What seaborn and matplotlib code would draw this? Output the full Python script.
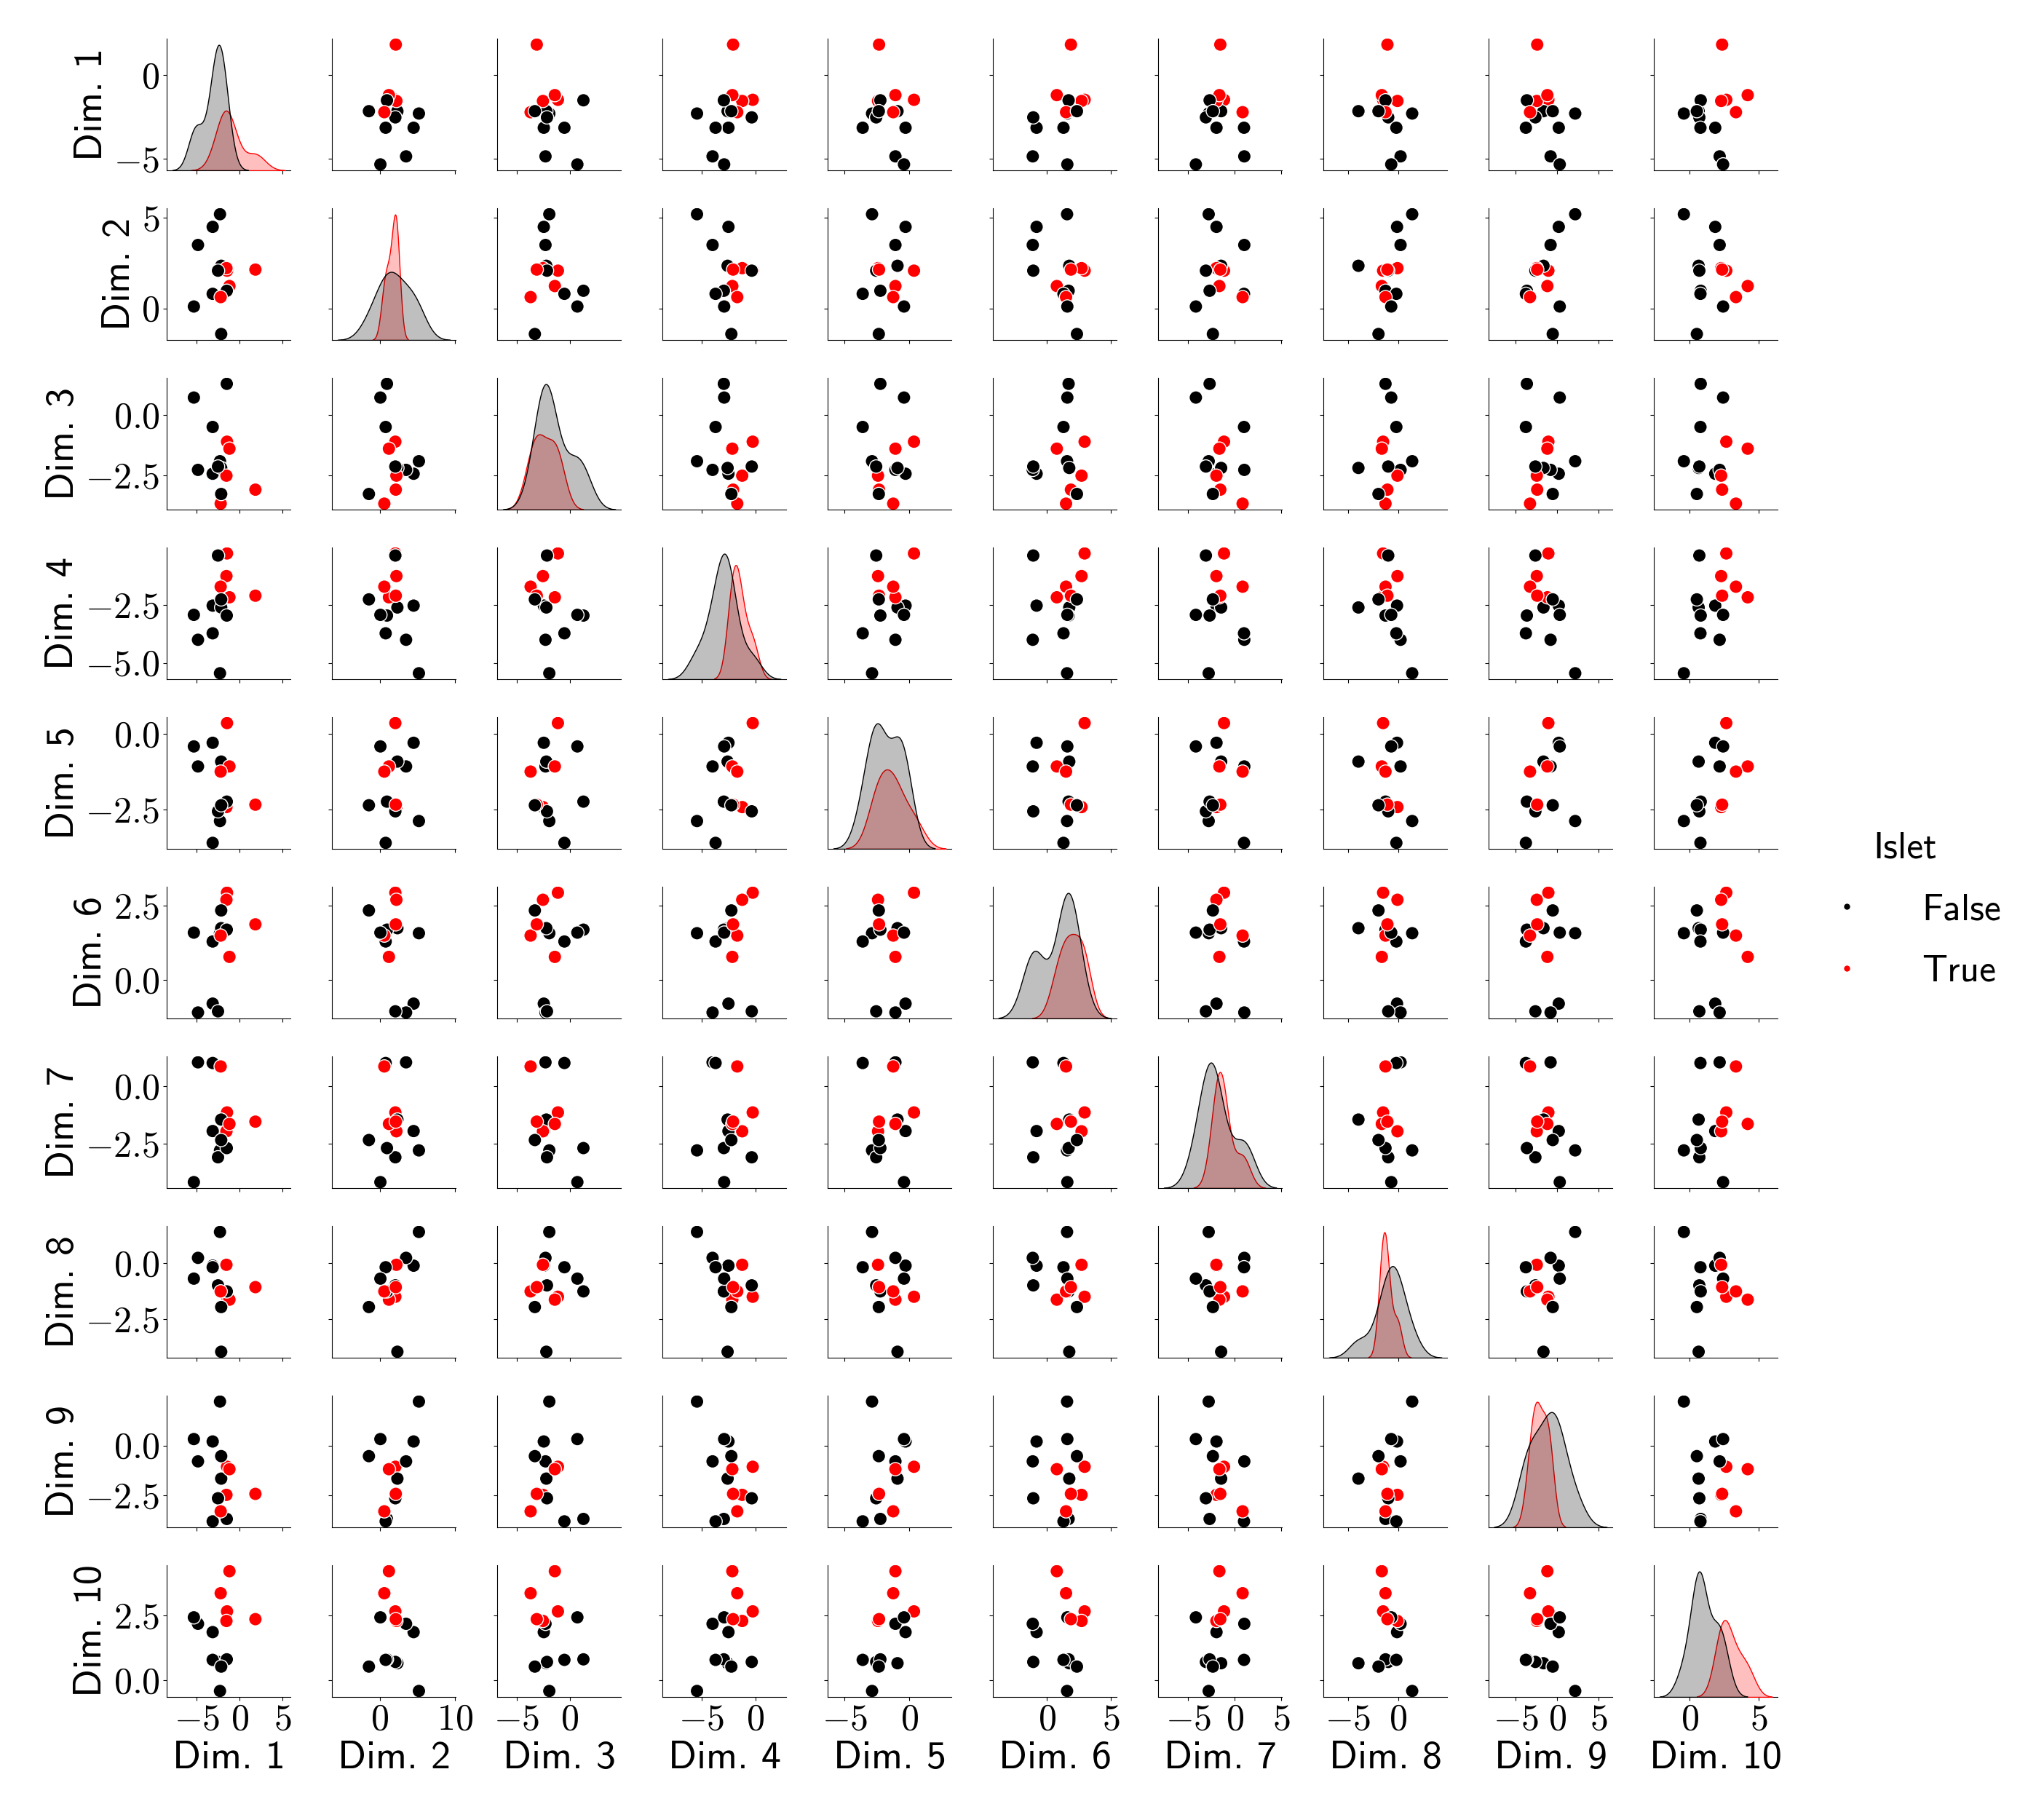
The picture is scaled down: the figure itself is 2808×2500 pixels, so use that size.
import matplotlib
matplotlib.use("Agg")
import matplotlib.pyplot as plt
import matplotlib.ticker as mtick
import pandas as pd
import seaborn as sns

# one value per sample (14 samples)
islet = [False, False, True, False, False, True, False, True, False, False, True, False, True, False]
dim1 = [-2.30, -3.15, -1.48, -4.86, -2.16, -1.55, -2.53, -1.20, -1.51, -3.15, -2.22, -5.34, 1.82, -2.16]
dim2 = [5.20, 4.50, 2.08, 3.50, 2.35, 2.22, 2.08, 1.23, 0.97, 0.80, 0.62, 0.10, 2.14, -1.42]
dim3 = [-1.92, -2.44, -1.11, -2.28, -2.20, -2.52, -2.14, -1.40, 1.29, -0.50, -3.68, 0.72, -3.10, -3.28]
dim4 = [-5.45, -2.52, -0.26, -4.00, -2.60, -1.24, -0.35, -2.16, -2.95, -3.72, -1.70, -2.92, -2.09, -2.25]
dim5 = [-2.88, -0.30, 0.35, -1.08, -0.92, -2.42, -2.56, -1.08, -2.24, -3.60, -1.25, -0.42, -2.34, -2.36]
dim6 = [1.58, -0.80, 2.95, -1.10, 1.75, 2.71, -1.06, 0.78, 1.70, 1.30, 1.50, 1.60, 1.88, 2.35]
dim7 = [-2.80, -1.96, -1.15, 1.03, -1.46, -1.97, -3.10, -1.65, -2.70, 1.00, 0.85, -4.18, -1.55, -2.35]
dim8 = [1.41, -0.10, -1.49, 0.25, -3.95, -0.06, -0.98, -1.62, -1.25, -0.17, -1.25, -0.68, -1.06, -1.95]
dim9 = [2.19, 0.20, -1.06, -0.79, -1.65, -2.46, -2.63, -1.18, -3.66, -3.78, -3.28, 0.32, -2.41, -0.53]
dim10 = [-0.42, 1.85, 2.65, 2.17, 0.65, 2.28, 0.70, 4.20, 0.80, 0.78, 3.35, 2.42, 2.35, 0.52]

dims = [dim1, dim2, dim3, dim4, dim5, dim6, dim7, dim8, dim9, dim10]
df = pd.DataFrame({f"Dim. {i + 1}": d for i, d in enumerate(dims)})
df["Islet"] = islet

plt.rcParams.update({
    "font.family": "cmss10",
    "mathtext.fontset": "cm",
    "mathtext.default": "rm",
    "axes.formatter.use_mathtext": True,
    "font.size": 36,
    "axes.labelsize": 39,
    "xtick.labelsize": 36,
    "ytick.labelsize": 36,
    "legend.fontsize": 37,
    "legend.title_fontsize": 37,
})


class CMFormatter(mtick.ScalarFormatter):
    """Tick labels in Computer Modern math, like the LaTeX original."""
    def __call__(self, x, pos=None):
        return super().__call__(x, pos).replace(r"\mathdefault", "")


g = sns.pairplot(
    df, hue="Islet", hue_order=[False, True],
    palette={False: "black", True: "red"}, height=2.5,
    plot_kws=dict(s=175, linewidth=1, edgecolor="white"),
    diag_kws=dict(linewidth=1),
)

for ax in g.axes.flat:
    ax.xaxis.set_major_formatter(CMFormatter(useMathText=True))
    ax.yaxis.set_major_formatter(CMFormatter(useMathText=True))

g.figure.set_size_inches(28.08, 25)
g.figure.subplots_adjust(left=0.0816, right=0.8697, bottom=0.0676, top=0.9788,
                         wspace=0.335, hspace=0.287)

sns.move_legend(g, "center", bbox_to_anchor=(0.932, 0.5), frameon=False,
                title="Islet", handletextpad=1.0, labelspacing=0.75)
for h in g._legend.legend_handles:
    if hasattr(h, "set_markersize"):
        h.set_markersize(7)
    elif hasattr(h, "set_sizes"):
        h.set_sizes([49])

g.figure.savefig("out.png", dpi=100)
